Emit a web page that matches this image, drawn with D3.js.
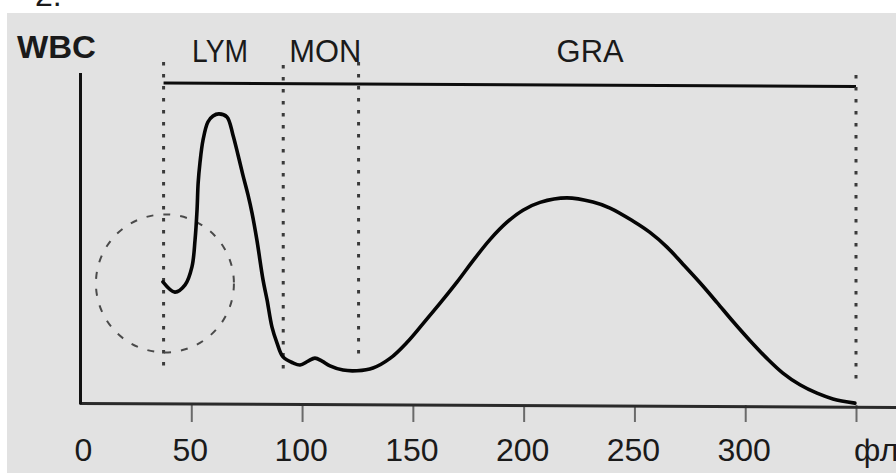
<!DOCTYPE html>
<html>
<head>
<meta charset="utf-8">
<script src="https://cdn.jsdelivr.net/npm/d3@7"></script>
<style>
  html, body { margin: 0; padding: 0; background: #ffffff; }
  svg { display: block; }
  text { font-family: "Liberation Sans", Arial, sans-serif; fill: #1a1a1a; }
</style>
</head>
<body>
<script>
// ---- data ----
const volumeFl = [37.2, 42.6, 47.2, 50.3, 51.7, 52.6, 53.1, 53.9, 55.3, 57.5, 59.8, 62.5, 66.1, 68.8, 71.1, 73.3, 75.6, 77.4, 79.6, 82.4, 84.2, 86.4, 88.7, 91.4, 95.9, 99.1, 102.7, 105.8, 109, 112.6, 118.5, 124.8, 132, 139.7, 147.3, 154.6, 162.3, 169.9, 177.1, 184.8, 192.5, 199.7, 207.4, 219.5, 231.3, 239, 249.3, 257, 264.7, 271.9, 279.6, 287.3, 294.5, 302.2, 309.8, 317, 324.7, 332.4, 339.6, 349.5];
const wbcCount = [40.7, 37.3, 39.7, 45.7, 54.7, 64.7, 73.7, 80.3, 88, 94, 96, 96.7, 95.7, 89.7, 83, 76.3, 69.7, 63.7, 54.7, 41.3, 34.7, 25.7, 20.3, 15.7, 13.7, 13, 14.3, 15.3, 14.3, 12.7, 11.3, 11.1, 12.0, 15.2, 20.5, 26.8, 33.6, 40.6, 47.7, 54.8, 60.6, 64.6, 67.2, 68.7, 67.3, 65.3, 61, 57.2, 52.3, 46.6, 40.4, 33.8, 27.5, 21.1, 15.2, 10.3, 6.4, 3.6, 1.7, 0.3];
const regionNames = ["LYM", "MON", "GRA"];
const regionLabelFl = [63, 110.5, 230];
const boundaryFl = [37.5, 91.5, 125.5, 350];
const boundaryTop = [114, 113, 114, 109.7];
const boundaryBottom = [11.3, 10.7, 15.3, 8];
const tickValues = [0, 50, 100, 150, 200, 250, 300];
const tickLabels = ["0", "50", "100", "150", "200", "250", "300"];
const unitLabel = "фл";
const yLabel = "WBC";

// ---- layout ----
const W = 896, H = 473;
const svg = d3.select("body").append("svg").attr("width", W).attr("height", H);

svg.append("text").attr("x", 35).attr("y", 6).attr("font-size", 32).text("2.");
svg.append("rect").attr("x", 7).attr("y", 13).attr("width", W - 7).attr("height", H - 13).attr("fill", "#e2e2e2");

const x = d3.scaleLinear().domain([0, 350]).range([80.5, 856]);
const y = d3.scaleLinear().domain([0, 110]).range([404, 74]);

// x axis (ticks)
const xAxis = d3.axisBottom(x)
  .tickValues(tickValues.slice(1).concat([350]))
  .tickSize(17)
  .tickFormat("");
const gx = svg.append("g").attr("transform", "translate(0,405)").call(xAxis);
gx.select(".domain").remove();
gx.selectAll(".tick line").attr("stroke", "#6a6a6a").attr("stroke-width", 2);

// x axis baseline (slightly tilted as in the scan)
svg.append("line")
  .attr("x1", x(0) - 1).attr("y1", 403.5)
  .attr("x2", W).attr("y2", 407.5)
  .attr("stroke", "#2a2a2a").attr("stroke-width", 3);

// tick labels
svg.append("g").selectAll("text").data(tickValues).join("text")
  .attr("x", (d) => x(d) + 1 - (d === 0 ? -2 : 2))
  .attr("y", 461)
  .attr("text-anchor", "middle")
  .attr("font-size", 32)
  .text((d, i) => tickLabels[i]);
svg.append("text").attr("x", x(350) - 2).attr("y", 461).attr("font-size", 32).text(unitLabel);

// y axis
const yAxis = d3.axisLeft(y).tickValues([]).tickSizeOuter(0);
const gy = svg.append("g").attr("transform", "translate(80.5,0)").call(yAxis);
gy.select(".domain").attr("stroke", "#111").attr("stroke-width", 3)
  .attr("d", `M0,${y(110.3)}V${y(0)}`);

svg.append("text").attr("x", 17).attr("y", 58).attr("font-size", 31).attr("font-weight", "bold")
  .attr("textLength", 79).attr("lengthAdjust", "spacingAndGlyphs").text(yLabel);

// top range bar
svg.append("line")
  .attr("x1", x(boundaryFl[0])).attr("y1", y(107))
  .attr("x2", x(350)).attr("y2", y(105.8))
  .attr("stroke", "#0d0d0d").attr("stroke-width", 3);

// region labels
const labelWidths = [56, 72, 67];
svg.append("g").selectAll("text").data(regionNames).join("text")
  .attr("x", (d, i) => x(regionLabelFl[i]))
  .attr("y", 62)
  .attr("text-anchor", "middle")
  .attr("font-size", 31)
  .attr("textLength", (d, i) => labelWidths[i])
  .attr("lengthAdjust", "spacingAndGlyphs")
  .text((d) => d);

// dotted boundaries
svg.append("g").selectAll("line").data(boundaryFl).join("line")
  .attr("x1", (d) => x(d)).attr("x2", (d) => x(d))
  .attr("y1", (d, i) => y(boundaryTop[i]))
  .attr("y2", (d, i) => y(boundaryBottom[i]))
  .attr("stroke", "#3a3a3a").attr("stroke-width", 3)
  .attr("stroke-dasharray", "3.5,8.5");

// dashed circle
svg.append("circle")
  .attr("cx", x(38.1)).attr("cy", y(40.2)).attr("r", 69)
  .attr("fill", "none").attr("stroke", "#4a4a4a").attr("stroke-width", 2)
  .attr("stroke-dasharray", "7,10");

// histogram curve
const pts = volumeFl.map((v, i) => [v, wbcCount[i]]);
const line = d3.line().x((d) => x(d[0])).y((d) => y(d[1])).curve(d3.curveCatmullRom.alpha(0.5));
svg.append("path").datum(pts).attr("d", line)
  .attr("fill", "none").attr("stroke", "#050505").attr("stroke-width", 3.6)
  .attr("stroke-linejoin", "round").attr("stroke-linecap", "round");
</script>
</body>
</html>
